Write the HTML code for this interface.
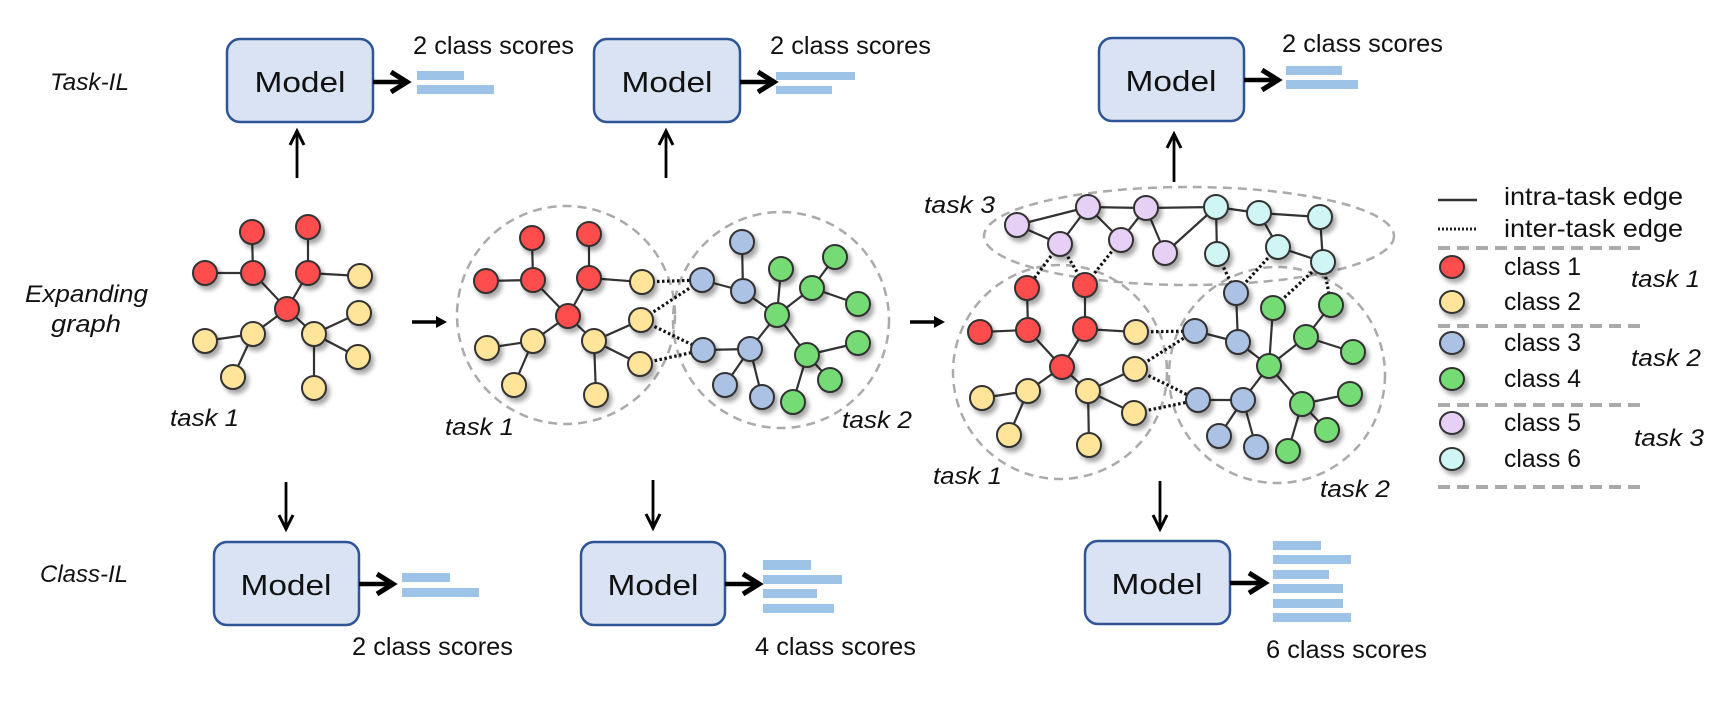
<!DOCTYPE html>
<html><head><meta charset="utf-8"><style>
html,body{margin:0;padding:0;background:#fff;}
svg{display:block;}
text{font-family:"Liberation Sans",sans-serif;fill:#111;}
.it{font-style:italic;}
</style></head><body>
<svg width="1726" height="702" viewBox="0 0 1726 702" xmlns="http://www.w3.org/2000/svg">
<defs>
<filter id="sh" x="-50%" y="-50%" width="200%" height="200%"><feDropShadow dx="3" dy="4" stdDeviation="2.5" flood-color="#000" flood-opacity="0.35"/></filter>
</defs>
<g id="boxes" fill="#dae3f3" stroke="#2f5597" stroke-width="2.5">
<rect x="227" y="39" width="146" height="83" rx="13"/>
<rect x="594" y="39" width="146" height="83" rx="13"/>
<rect x="1099" y="38" width="145" height="83" rx="13"/>
<rect x="214" y="542" width="145" height="83" rx="13"/>
<rect x="581" y="542" width="144" height="83" rx="13"/>
<rect x="1085" y="541" width="145" height="83" rx="13"/>
</g>
<g font-size="29" text-anchor="middle">
<text x="300" y="92" textLength="91" lengthAdjust="spacingAndGlyphs">Model</text>
<text x="667" y="92" textLength="91" lengthAdjust="spacingAndGlyphs">Model</text>
<text x="1171" y="91" textLength="91" lengthAdjust="spacingAndGlyphs">Model</text>
<text x="286" y="595" textLength="91" lengthAdjust="spacingAndGlyphs">Model</text>
<text x="653" y="595" textLength="91" lengthAdjust="spacingAndGlyphs">Model</text>
<text x="1157" y="594" textLength="91" lengthAdjust="spacingAndGlyphs">Model</text>
</g>
<!-- short thick arrows -->
<g stroke="#000" fill="none" stroke-linecap="butt">
<g stroke-width="4.5"><path d="M373 82H404"/><path d="M740 82H771"/><path d="M1244 80H1275"/><path d="M359 584H390"/><path d="M725 584H756"/><path d="M1230 583H1262"/></g>
<g stroke-width="5" stroke-linejoin="miter"><path d="M391 72L407 82L391 92"/><path d="M758 72L774 82L758 92"/><path d="M1262 70L1278 80L1262 90"/><path d="M377 574L393 584L377 594"/><path d="M743 574L759 584L743 594"/><path d="M1249 573L1265 583L1249 593"/></g>
<!-- vertical arrows -->
<g stroke-width="2.8"><path d="M297 178V132"/><path d="M666 178V132"/><path d="M1174 182V135"/><path d="M286 482V528"/><path d="M653 480V527"/><path d="M1160 481V528"/></g>
<g stroke-width="3"><path d="M290 145L297 131L304 145"/><path d="M659 145L666 131L673 145"/><path d="M1167 148L1174 134L1181 148"/><path d="M279 515L286 529L293 515"/><path d="M646 514L653 528L660 514"/><path d="M1153 515L1160 529L1167 515"/></g>
<!-- graph arrows -->
<path d="M412 322H438" stroke-width="3.5"/><path d="M910 322H936" stroke-width="3.5"/>
</g>
<path d="M436 316L447 322L436 328Z"/><path d="M934 316L945 322L934 328Z"/>
<!-- bars -->
<g fill="#9dc3e6">
<rect x="417" y="71" width="47" height="9"/><rect x="417" y="85" width="77" height="9"/>
<rect x="776" y="72" width="79" height="8"/><rect x="776" y="86" width="56" height="8"/>
<rect x="1286" y="66" width="56" height="9"/><rect x="1286" y="80" width="72" height="9"/>
<rect x="402" y="573" width="48" height="9"/><rect x="402" y="588" width="77" height="9"/>
<rect x="763" y="560" width="48" height="10"/><rect x="763" y="575" width="79" height="9"/><rect x="763" y="589" width="54" height="9"/><rect x="763" y="604" width="71" height="9"/>
<rect x="1273" y="541" width="48" height="9"/><rect x="1273" y="555" width="78" height="9"/><rect x="1273" y="570" width="56" height="9"/><rect x="1273" y="584" width="70" height="9"/><rect x="1273" y="599" width="70" height="9"/><rect x="1273" y="613" width="78" height="9"/>
</g>
<g font-size="25">
<text x="413" y="54" textLength="161" lengthAdjust="spacingAndGlyphs">2 class scores</text>
<text x="770" y="54" textLength="161" lengthAdjust="spacingAndGlyphs">2 class scores</text>
<text x="1282" y="52" textLength="161" lengthAdjust="spacingAndGlyphs">2 class scores</text>
<text x="352" y="655" textLength="161" lengthAdjust="spacingAndGlyphs">2 class scores</text>
<text x="755" y="655" textLength="161" lengthAdjust="spacingAndGlyphs">4 class scores</text>
<text x="1266" y="658" textLength="161" lengthAdjust="spacingAndGlyphs">6 class scores</text>
</g>
<g font-size="24" class="it">
<text class="it" x="50" y="90" textLength="79" lengthAdjust="spacingAndGlyphs">Task-IL</text>
<text class="it" x="25" y="302" textLength="123" lengthAdjust="spacingAndGlyphs">Expanding</text>
<text class="it" x="51" y="332" textLength="70" lengthAdjust="spacingAndGlyphs">graph</text>
<text class="it" x="40" y="582" textLength="88" lengthAdjust="spacingAndGlyphs">Class-IL</text>
<text class="it" x="170" y="426" textLength="69" lengthAdjust="spacingAndGlyphs">task 1</text>
<text class="it" x="445" y="435" textLength="69" lengthAdjust="spacingAndGlyphs">task 1</text>
<text class="it" x="842" y="428" textLength="70" lengthAdjust="spacingAndGlyphs">task 2</text>
<text class="it" x="924" y="213" textLength="71" lengthAdjust="spacingAndGlyphs">task 3</text>
<text class="it" x="933" y="484" textLength="69" lengthAdjust="spacingAndGlyphs">task 1</text>
<text class="it" x="1320" y="497" textLength="70" lengthAdjust="spacingAndGlyphs">task 2</text>
<text class="it" x="1631" y="287" textLength="69" lengthAdjust="spacingAndGlyphs">task 1</text>
<text class="it" x="1631" y="366" textLength="70" lengthAdjust="spacingAndGlyphs">task 2</text>
<text class="it" x="1634" y="446" textLength="70" lengthAdjust="spacingAndGlyphs">task 3</text>
</g>
<!-- dashed regions -->
<g fill="none" stroke="#aaa" stroke-width="2.5" stroke-dasharray="9 6">
<circle cx="566" cy="315" r="109"/>
<circle cx="781" cy="320" r="108"/>
<ellipse cx="1189" cy="236" rx="205" ry="49"/>
<circle cx="1060" cy="372" r="107"/>
<circle cx="1277" cy="375" r="108"/>
</g>
<g stroke="#aaa" stroke-width="4" stroke-dasharray="12 7"><path d="M1438 248H1640"/><path d="M1438 326H1645"/><path d="M1438 405H1647"/><path d="M1438 487H1647"/></g>
<!-- legend -->
<path d="M1438 200H1477" stroke="#333" stroke-width="2.5"/>
<path d="M1438 229H1477" stroke="#222" stroke-width="3" stroke-dasharray="2 2"/>
<g font-size="25">
<text x="1504" y="205" textLength="179" lengthAdjust="spacingAndGlyphs">intra-task edge</text>
<text x="1504" y="237" textLength="179" lengthAdjust="spacingAndGlyphs">inter-task edge</text>
<text x="1504" y="275" textLength="77" lengthAdjust="spacingAndGlyphs">class 1</text>
<text x="1504" y="310" textLength="77" lengthAdjust="spacingAndGlyphs">class 2</text>
<text x="1504" y="351" textLength="77" lengthAdjust="spacingAndGlyphs">class 3</text>
<text x="1504" y="387" textLength="77" lengthAdjust="spacingAndGlyphs">class 4</text>
<text x="1504" y="431" textLength="77" lengthAdjust="spacingAndGlyphs">class 5</text>
<text x="1504" y="467" textLength="77" lengthAdjust="spacingAndGlyphs">class 6</text>
</g>
<g stroke="#333" stroke-width="2" filter="url(#sh)">
<ellipse cx="1452" cy="267" rx="12" ry="11" fill="#ff4d4d"/>
<ellipse cx="1452" cy="302" rx="12" ry="11" fill="#ffe49a"/>
<ellipse cx="1452" cy="343" rx="12" ry="11" fill="#abc2e4"/>
<ellipse cx="1452" cy="379" rx="12" ry="11" fill="#74dc74"/>
<ellipse cx="1452" cy="423" rx="12" ry="11" fill="#e6d0f5"/>
<ellipse cx="1452" cy="459" rx="12" ry="11" fill="#cff6f4"/>
</g>
<!-- EDGES -->
<g stroke="#333" stroke-width="2.2" fill="none">
<!-- graph1 -->
<path d="M252 232L253 273M205 273L253 273M253 273L287 309M308 227L308 273M308 273L360 276M308 273L287 309M287 309L253 334M253 334L205 341M253 334L233 377M287 309L314 334M314 334L359 313M314 334L358 357M314 334L314 388"/>
<!-- graph2 task1 -->
<path d="M532 238L533 280M486 281L533 280M533 280L568 316M589 234L589 278M589 278L642 282M589 278L568 316M568 316L533 341M533 341L487 348M533 341L514 385M568 316L594 341M594 341L641 320M594 341L640 364M594 341L596 395"/>
<!-- graph2 task2 -->
<path d="M742 242L743 291M702 280L743 291M743 291L777 315M777 315L781 269M777 315L812 288M812 288L835 257M812 288L858 304M777 315L807 355M807 355L858 343M807 355L830 380M807 355L793 402M777 315L750 349M750 349L703 350M750 349L725 385M750 349L762 397"/>
<!-- graph3 task1 -->
<path d="M1027 288L1028 330M980 332L1028 330M1028 330L1062 367M1085 285L1085 329M1085 329L1136 332M1085 329L1062 367M1062 367L1028 391M1028 391L982 398M1028 391L1009 435M1062 367L1088 391M1088 391L1135 369M1088 391L1134 413M1088 391L1089 445"/>
<!-- graph3 task2 -->
<path d="M1236 293L1238 342M1195 331L1238 342M1238 342L1269 366M1269 366L1273 308M1269 366L1306 337M1306 337L1331 305M1306 337L1353 352M1269 366L1302 404M1302 404L1350 394M1302 404L1327 430M1302 404L1288 451M1269 366L1243 400M1243 400L1198 400M1243 400L1219 436M1243 400L1256 447"/>
<!-- task3 -->
<path d="M1017 225L1088 207M1088 207L1146 208M1146 208L1216 207M1216 207L1259 213M1259 213L1320 217M1017 225L1060 244M1060 244L1088 207M1088 207L1121 240M1121 240L1146 208M1146 208L1165 253M1165 253L1216 207M1216 207L1217 254M1259 213L1278 247M1278 247L1323 262M1320 217L1323 262"/>
</g>
<g stroke="#111" stroke-width="3.2" stroke-dasharray="2.5 2.5" fill="none">
<path d="M642 282L702 280M641 320L702 280M641 320L703 350M640 364L703 350"/>
<path d="M1136 332L1195 331M1135 369L1195 331M1135 369L1198 400M1134 413L1198 400"/>
<path d="M1060 244L1027 288M1060 244L1085 285M1121 240L1085 285M1217 254L1236 293M1278 247L1236 293M1323 262L1273 308M1323 262L1331 305"/>
</g>
<!-- NODES -->
<g stroke="#333" stroke-width="2" filter="url(#sh)">
<g fill="#ff4d4d">
<circle cx="252" cy="232" r="12"/><circle cx="308" cy="227" r="12"/><circle cx="205" cy="273" r="12"/><circle cx="253" cy="273" r="12"/><circle cx="308" cy="273" r="12"/><circle cx="287" cy="309" r="12"/>
<circle cx="532" cy="238" r="12"/><circle cx="589" cy="234" r="12"/><circle cx="486" cy="281" r="12"/><circle cx="533" cy="280" r="12"/><circle cx="589" cy="278" r="12"/><circle cx="568" cy="316" r="12"/>
<circle cx="1027" cy="288" r="12"/><circle cx="1085" cy="285" r="12"/><circle cx="980" cy="332" r="12"/><circle cx="1028" cy="330" r="12"/><circle cx="1085" cy="329" r="12"/><circle cx="1062" cy="367" r="12"/>
</g>
<g fill="#ffe49a">
<circle cx="360" cy="276" r="12"/><circle cx="359" cy="313" r="12"/><circle cx="314" cy="334" r="12"/><circle cx="253" cy="334" r="12"/><circle cx="205" cy="341" r="12"/><circle cx="233" cy="377" r="12"/><circle cx="358" cy="357" r="12"/><circle cx="314" cy="388" r="12"/>
<circle cx="642" cy="282" r="12"/><circle cx="641" cy="320" r="12"/><circle cx="594" cy="341" r="12"/><circle cx="533" cy="341" r="12"/><circle cx="487" cy="348" r="12"/><circle cx="514" cy="385" r="12"/><circle cx="640" cy="364" r="12"/><circle cx="596" cy="395" r="12"/>
<circle cx="1136" cy="332" r="12"/><circle cx="1135" cy="369" r="12"/><circle cx="1088" cy="391" r="12"/><circle cx="1028" cy="391" r="12"/><circle cx="982" cy="398" r="12"/><circle cx="1009" cy="435" r="12"/><circle cx="1134" cy="413" r="12"/><circle cx="1089" cy="445" r="12"/>
</g>
<g fill="#abc2e4">
<circle cx="742" cy="242" r="12"/><circle cx="702" cy="280" r="12"/><circle cx="743" cy="291" r="12"/><circle cx="703" cy="350" r="12"/><circle cx="750" cy="349" r="12"/><circle cx="725" cy="385" r="12"/><circle cx="762" cy="397" r="12"/>
<circle cx="1236" cy="293" r="12"/><circle cx="1195" cy="331" r="12"/><circle cx="1238" cy="342" r="12"/><circle cx="1198" cy="400" r="12"/><circle cx="1243" cy="400" r="12"/><circle cx="1219" cy="436" r="12"/><circle cx="1256" cy="447" r="12"/>
</g>
<g fill="#74dc74">
<circle cx="777" cy="315" r="12"/><circle cx="781" cy="269" r="12"/><circle cx="812" cy="288" r="12"/><circle cx="835" cy="257" r="12"/><circle cx="858" cy="304" r="12"/><circle cx="807" cy="355" r="12"/><circle cx="858" cy="343" r="12"/><circle cx="830" cy="380" r="12"/><circle cx="793" cy="402" r="12"/>
<circle cx="1269" cy="366" r="12"/><circle cx="1273" cy="308" r="12"/><circle cx="1306" cy="337" r="12"/><circle cx="1331" cy="305" r="12"/><circle cx="1353" cy="352" r="12"/><circle cx="1302" cy="404" r="12"/><circle cx="1350" cy="394" r="12"/><circle cx="1327" cy="430" r="12"/><circle cx="1288" cy="451" r="12"/>
</g>
<g fill="#e6d0f5">
<circle cx="1017" cy="225" r="12"/><circle cx="1088" cy="207" r="12"/><circle cx="1060" cy="244" r="12"/><circle cx="1146" cy="208" r="12"/><circle cx="1121" cy="240" r="12"/><circle cx="1165" cy="253" r="12"/>
</g>
<g fill="#cff6f4">
<circle cx="1216" cy="207" r="12"/><circle cx="1259" cy="213" r="12"/><circle cx="1217" cy="254" r="12"/><circle cx="1320" cy="217" r="12"/><circle cx="1278" cy="247" r="12"/><circle cx="1323" cy="262" r="12"/>
</g>
</g>
</svg>
</body></html>
